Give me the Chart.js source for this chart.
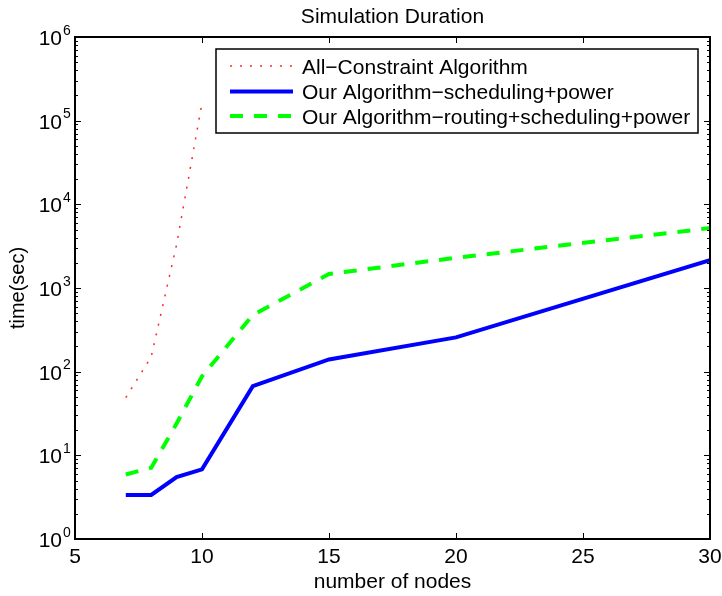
<!DOCTYPE html>
<html><head><meta charset="utf-8">
<script src="https://cdn.jsdelivr.net/npm/chart.js@4.4.1/dist/chart.umd.min.js"></script>
<style>html,body{margin:0;padding:0;background:#fff}</style>
</head><body>
<canvas id="c" width="722" height="596"></canvas>
<script>
const nodes = [7, 8, 9, 10, 12, 15, 20, 30];
const allConstraintNodes = [7, 8, 9, 10];
const allConstraint = [49, 150, 3300, 163000];
const schedPower = [3.36, 3.36, 5.5, 6.8, 67, 140, 257, 2150];
const routSchedPower = [5.9, 7.1, 24, 88, 475, 1470, 2300, 5200];
const xTicks = [5, 10, 15, 20, 25, 30];
const yExponents = [0, 1, 2, 3, 4, 5, 6];
const seriesLabels = ['All\u2212Constraint Algorithm', 'Our Algorithm\u2212scheduling+power', 'Our Algorithm\u2212routing+scheduling+power'];
const titleText = 'Simulation Duration';
const xTitle = 'number of nodes';
const yTitle = 'time(sec)';

const FONT = '"Liberation Sans", Arial, Helvetica, sans-serif';

const frame = {
  id: 'frame',
  afterDatasetsDraw(chart) {
    const ctx = chart.ctx, a = chart.chartArea;
    const xs = chart.scales.x, ys = chart.scales.y;
    ctx.save();
    // ticks
    ctx.strokeStyle = '#000';
    ctx.lineWidth = 1;
    ctx.beginPath();
    xTicks.forEach(v => {
      const px = Math.round(xs.getPixelForValue(v)) + 0.5;
      ctx.moveTo(px, a.bottom); ctx.lineTo(px, a.bottom - 6);
      ctx.moveTo(px, a.top); ctx.lineTo(px, a.top + 6);
    });
    yExponents.forEach(e => {
      const py = Math.round(ys.getPixelForValue(Math.pow(10, e))) + 0.5;
      ctx.moveTo(a.left, py); ctx.lineTo(a.left + 6, py);
      ctx.moveTo(a.right, py); ctx.lineTo(a.right - 6, py);
      if (e < 6) {
        for (let k = 2; k <= 9; k++) {
          const pm = Math.round(ys.getPixelForValue(k * Math.pow(10, e))) + 0.5;
          ctx.moveTo(a.left, pm); ctx.lineTo(a.left + 3, pm);
          ctx.moveTo(a.right, pm); ctx.lineTo(a.right - 3, pm);
        }
      }
    });
    ctx.stroke();
    // box
    ctx.lineWidth = 2;
    ctx.strokeRect(a.left, a.top, a.right - a.left, a.bottom - a.top);

    // y tick labels with superscripts
    ctx.fillStyle = '#000';
    yExponents.forEach(e => {
      const py = ys.getPixelForValue(Math.pow(10, e));
      ctx.font = '21px ' + FONT;
      ctx.textAlign = 'right';
      ctx.textBaseline = 'alphabetic';
      ctx.fillText('10', a.left - 13, py + 8);
      ctx.font = '14px ' + FONT;
      ctx.textAlign = 'left';
      ctx.fillText(String(e), a.left - 12, py - 2.5);
    });

    // title
    ctx.font = '21px ' + FONT;
    ctx.textAlign = 'center';
    ctx.textBaseline = 'alphabetic';
    ctx.fillText(titleText, (a.left + a.right) / 2, 23);
    // x title
    ctx.fillText(xTitle, (a.left + a.right) / 2, 588);
    // y title
    ctx.save();
    ctx.translate(24, (a.top + a.bottom) / 2);
    ctx.rotate(-Math.PI / 2);
    ctx.font = '20px ' + FONT;
    ctx.fillText(yTitle, 0, 0);
    ctx.restore();

    // legend
    const L = a.left + 141, R = a.right - 12, T = a.top + 12, B = a.top + 96;
    ctx.fillStyle = '#fff';
    ctx.fillRect(L, T, R - L, B - T);
    ctx.lineWidth = 1.5;
    ctx.strokeStyle = '#000';
    ctx.strokeRect(L, T, R - L, B - T);
    const rows = [T + 17, T + 42.5, T + 67];
    chart.data.datasets.forEach((ds, i) => {
      const y = rows[i];
      ctx.save();
      ctx.strokeStyle = ds.borderColor;
      ctx.lineWidth = ds.borderWidth;
      ctx.setLineDash(ds.borderDash || []);
      ctx.beginPath();
      ctx.moveTo(L + 14, y); ctx.lineTo(L + 77, y);
      ctx.stroke();
      ctx.restore();
      ctx.fillStyle = '#000';
      ctx.font = '21px ' + FONT;
      ctx.textAlign = 'left';
      ctx.textBaseline = 'alphabetic';
      ctx.fillText(ds.label, L + 86, y + 7.5);
    });
    ctx.restore();
  }
};

new Chart(document.getElementById('c').getContext('2d'), {
  type: 'line',
  data: {
    datasets: [
      {
        label: seriesLabels[0],
        data: allConstraintNodes.map((x, i) => ({ x: x, y: allConstraint[i] })),
        borderColor: 'rgba(255,0,0,0.85)', borderWidth: 1.5, borderDash: [2, 8],
        pointRadius: 0, fill: false, tension: 0
      },
      {
        label: seriesLabels[1],
        data: nodes.map((x, i) => ({ x: x, y: schedPower[i] })),
        borderColor: '#0000ff', borderWidth: 4,
        pointRadius: 0, fill: false, tension: 0
      },
      {
        label: seriesLabels[2],
        data: nodes.map((x, i) => ({ x: x, y: routSchedPower[i] })),
        borderColor: '#00ff00', borderWidth: 4, borderDash: [13, 11],
        pointRadius: 0, fill: false, tension: 0
      }
    ]
  },
  options: {
    responsive: false, animation: false, devicePixelRatio: 1,
    layout: { padding: { left: 0, right: 12, top: 37, bottom: 0 } },
    plugins: { legend: { display: false }, title: { display: false }, tooltip: { enabled: false } },
    scales: {
      x: {
        type: 'linear', min: 5, max: 30,
        afterBuildTicks: s => { s.ticks = xTicks.map(v => ({ value: v })); },
        grid: { display: false, drawTicks: false }, border: { display: false },
        ticks: { color: '#000', font: { family: FONT, size: 21 }, padding: 6, maxRotation: 0, autoSkip: false },
        afterFit: s => { s.height = 57; s.paddingLeft = 0; s.paddingRight = 0; }
      },
      y: {
        type: 'logarithmic', min: 1, max: 1e6,
        grid: { display: false, drawTicks: false }, border: { display: false },
        ticks: { display: false },
        afterFit: s => { s.width = 75; s.paddingTop = 0; s.paddingBottom = 0; }
      }
    }
  },
  plugins: [frame]
});
</script>
</body></html>
